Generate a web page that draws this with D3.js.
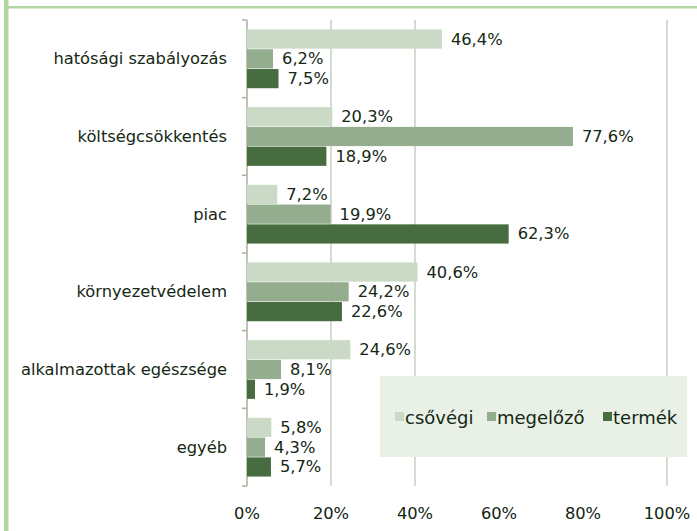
<!DOCTYPE html>
<html><head><meta charset="utf-8">
<script src="https://cdn.jsdelivr.net/npm/d3@7"></script>
<style>html,body{margin:0;padding:0;background:#fff;}svg{display:block;}</style>
</head><body>
<svg id="chart" width="697" height="531"></svg>
<script>
const categories = ["hatósági szabályozás","költségcsökkentés","piac","környezetvédelem","alkalmazottak egészsége","egyéb"];
const seriesNames = ["csővégi","megelőző","termék"];
const csovegi  = [46.4, 20.3, 7.2, 40.6, 24.6, 5.8];
const megelozo = [6.2, 77.6, 19.9, 24.2, 8.1, 4.3];
const termek   = [7.5, 18.9, 62.3, 22.6, 1.9, 5.7];
const xTicks = [0, 20, 40, 60, 80, 100];
const gridValues = [20, 40, 100];
const colors = ["#cbdac6", "#95ad8f", "#476c40"];

const seriesValues = [csovegi, megelozo, termek];
const svg = d3.select("#chart");
const font = "DejaVu Sans";
const textColor = "#142814";

// frame decorations
svg.append("rect").attr("x",4).attr("y",6).attr("width",693).attr("height",2.5).attr("fill","#b2d5a4");
svg.append("rect").attr("x",4).attr("y",0).attr("width",4.5).attr("height",531).attr("fill","#b2d5a4");

const x = d3.scaleLinear().domain([0,100]).range([247,667]);
const y0 = d3.scaleBand().domain(categories).range([20,486]).paddingInner(0.228).paddingOuter(0.114);
const y1 = d3.scaleBand().domain(seriesNames).range([0,y0.bandwidth()]).padding(0.03);

// gridlines
svg.append("g").selectAll("line").data(gridValues).join("line")
  .attr("x1",d=>x(d)).attr("x2",d=>x(d)).attr("y1",20).attr("y2",486)
  .attr("stroke","#c3d1bf").attr("stroke-width",1.5);

// category axis
const step = y0.step();
const boundaries = d3.range(categories.length+1).map(i=>20+i*step);
svg.append("line").attr("x1",247).attr("x2",247).attr("y1",20).attr("y2",486)
  .attr("stroke","#a3b59d").attr("stroke-width",1.5);
svg.append("g").selectAll("line").data(boundaries).join("line")
  .attr("x1",242).attr("x2",247).attr("y1",d=>d).attr("y2",d=>d)
  .attr("stroke","#a3b59d").attr("stroke-width",1.5);

// category labels
svg.append("g").selectAll("text").data(categories).join("text")
  .attr("x",227).attr("y",d=>y0(d)+y0.bandwidth()/2)
  .attr("text-anchor","end").attr("dominant-baseline","central")
  .attr("font-family",font).attr("font-size",16.3).attr("fill",textColor)
  .text(d=>d);

// bars
const groups = svg.append("g").selectAll("g").data(categories).join("g")
  .attr("transform",d=>`translate(0,${y0(d)})`);
const barData = (c,i)=>seriesNames.map((s,j)=>({s, j, v: seriesValues[j][i]}));
groups.selectAll("rect").data((c,i)=>barData(c,i)).join("rect")
  .attr("x",x(0)).attr("y",d=>y1(d.s)).attr("height",y1.bandwidth())
  .attr("width",d=>x(d.v)-x(0)).attr("fill",d=>colors[d.j]);
groups.selectAll("text").data((c,i)=>barData(c,i)).join("text")
  .attr("x",d=>x(d.v)+9).attr("y",d=>y1(d.s)+y1.bandwidth()/2)
  .attr("dominant-baseline","central")
  .attr("font-family",font).attr("font-size",16.3).attr("fill",textColor)
  .text(d=>d.v.toFixed(1).replace(".",",")+"%");

// legend
const lg = svg.append("g");
lg.append("rect").attr("x",380).attr("y",376).attr("width",307).attr("height",81).attr("fill","#e9f0e6");
const legendX = [395, 487, 603];
seriesNames.forEach((s,j)=>{
  lg.append("rect").attr("x",legendX[j]).attr("y",412).attr("width",9).attr("height",9).attr("fill",colors[j]);
  lg.append("text").attr("x",legendX[j]+10).attr("y",417).attr("dominant-baseline","central")
    .attr("font-family",font).attr("font-size",18).attr("fill",textColor).text(s);
});

// x tick labels
svg.append("g").selectAll("text").data(xTicks).join("text")
  .attr("x",d=>x(d)).attr("y",513).attr("text-anchor","middle").attr("dominant-baseline","central")
  .attr("font-family",font).attr("font-size",16.3).attr("fill","#102410")
  .text(d=>d+"%");
</script>
</body></html>
